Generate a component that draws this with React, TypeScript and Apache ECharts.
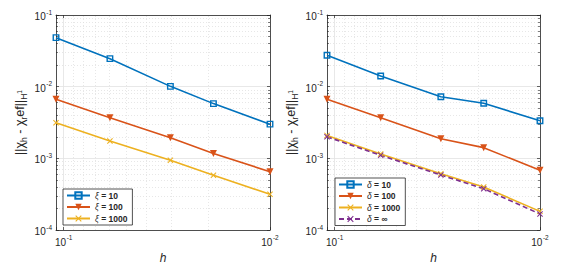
import React, { useEffect, useRef } from "react";
import * as echarts from "echarts";

// mesh sizes h (x axis, shared by both panels)
const H = [0.109, 0.0597, 0.0304, 0.0188, 0.01];
// left panel: xi
const XI_NAMES = ["ξ = 10", "ξ = 100", "ξ = 1000"];
const XI_10 = [0.0483, 0.0246, 0.0101, 0.0058, 0.003];
const XI_100 = [0.00665, 0.00369, 0.00194, 0.00117, 0.00065];
const XI_1000 = [0.00314, 0.00175, 0.00094, 0.00058, 0.000315];
// right panel: delta
const D_NAMES = ["δ = 10", "δ = 100", "δ = 1000", "δ = ∞"];
const D_10 = [0.0274, 0.0141, 0.00724, 0.00586, 0.00335];
const D_100 = [0.00665, 0.00369, 0.00188, 0.00141, 0.00068];
const D_1000 = [0.00209, 0.00115, 0.00061, 0.000398, 0.000182];
const D_INF = [0.002, 0.0011, 0.000585, 0.000377, 0.000167];
// axis limits
const Y_MIN = 1e-4;
const Y_MAX = 1e-1;

const BLUE = "#0072BD";
const ORANGE = "#D95319";
const YELLOW = "#EDB120";
const PURPLE = "#7E2F8E";
const INK = "#262626";
const FONT = "'Liberation Sans', Arial, Helvetica, sans-serif";
const XMARK = "path://M0,1.2L1.2,0L5,3.8L8.8,0L10,1.2L6.2,5L10,8.8L8.8,10L5,6.2L1.2,10L0,8.8L3.8,5Z";

const X_MIN = Math.min(...H);
const X_MAX = Math.max(...H);

function minorGridX(): number[] {
  const out: number[] = [];
  for (let d = -3; d <= 0; d++) {
    for (let k = 2; k <= 9; k++) {
      const v = k * Math.pow(10, d);
      if (v > X_MIN * 1.0001 && v < X_MAX * 0.9999) out.push(v);
    }
  }
  return out;
}

const powLabel = (v: number) => {
  const e = Math.log10(v);
  const r = Math.round(e);
  if (Math.abs(e - r) > 1e-6) return "";
  return `{b|10}{p|${r}}`;
};

const tickRich = {
  b: { fontSize: 10, color: INK, fontFamily: FONT, lineHeight: 13, verticalAlign: "bottom" },
  p: { fontSize: 6.5, color: INK, fontFamily: FONT, lineHeight: 13, verticalAlign: "top", padding: [0, 0, 0, 0.5] },
};

function xAxes(gridIndex: number) {
  const base = {
    type: "log",
    logBase: 10,
    gridIndex,
    min: X_MIN,
    max: X_MAX,
    inverse: true,
    axisLine: { show: true, onZero: false, lineStyle: { color: INK, width: 0.8 } },
    axisTick: { show: true, inside: true, length: 3, lineStyle: { color: INK, width: 0.7 } },
  };
  return [
    {
      ...base,
      position: "bottom",
      name: "h",
      nameLocation: "middle",
      nameGap: 20,
      nameTextStyle: { fontStyle: "italic", fontSize: 12, color: INK, fontFamily: FONT },
      axisLabel: { show: true, formatter: powLabel, rich: tickRich, margin: 4, showMinLabel: true, showMaxLabel: true },
      splitLine: { show: true, lineStyle: { color: "#e2e2e2", width: 0.8 } },
    },
    {
      ...base,
      position: "top",
      axisLabel: { show: false },
      splitLine: { show: false },
    },
  ];
}

function yAxes(gridIndex: number) {
  const base = {
    type: "log",
    logBase: 10,
    gridIndex,
    min: Y_MIN,
    max: Y_MAX,
    axisLine: { show: true, onZero: false, lineStyle: { color: INK, width: 0.8 } },
    axisTick: { show: true, inside: true, length: 3, lineStyle: { color: INK, width: 0.7 } },
    minorTick: { show: true, splitNumber: 9, length: 2, lineStyle: { color: INK, width: 0.6 } },
  };
  return [
    {
      ...base,
      position: "left",
      name: "{n|||χ}{s|h}{n| - χ}{s|r}{n|ef||}{s|H}{u|1}",
      nameLocation: "middle",
      nameRotate: 90,
      nameGap: 28,
      nameTextStyle: {
        rich: {
          n: { fontSize: 12.5, color: INK, fontFamily: FONT, lineHeight: 17, verticalAlign: "middle" },
          s: { fontSize: 8.5, color: INK, fontFamily: FONT, lineHeight: 10, verticalAlign: "bottom" },
          u: { fontSize: 6.5, color: INK, fontFamily: FONT, lineHeight: 15, verticalAlign: "middle" },
        },
      },
      axisLabel: { show: true, formatter: powLabel, rich: tickRich, margin: 4 },
      splitLine: { show: true, lineStyle: { color: "#e2e2e2", width: 0.8 } },
      minorSplitLine: { show: true, lineStyle: { color: "#dcdcdc", width: 0.7, type: [1, 2] } },
    },
    {
      ...base,
      position: "right",
      axisLabel: { show: false },
      splitLine: { show: false },
      minorSplitLine: { show: false },
    },
  ];
}

function pts(ys: number[]) {
  return H.map((h, i) => [h, ys[i]]);
}

function lineSeries(name: string, ys: number[], color: string, kind: string, xi: number, yi: number, dashed = false) {
  let symbol = "rect";
  let symbolRotate = 0;
  let itemStyle: any = { color };
  let symbolSize = 6;
  if (kind === "square") {
    itemStyle = { color: "rgba(255,255,255,0)", borderColor: color, borderWidth: 1.4 };
    symbolSize = 5.5;
  } else if (kind === "tri") {
    symbol = "triangle";
    symbolRotate = 180;
    symbolSize = 7;
  } else {
    symbol = XMARK;
    symbolSize = 6;
  }
  return {
    type: "line",
    name,
    xAxisIndex: xi,
    yAxisIndex: yi,
    data: pts(ys),
    symbol,
    symbolRotate,
    symbolSize,
    itemStyle,
    lineStyle: { color, width: 1.6, type: dashed ? [5, 3] : "solid" },
    z: 3,
  };
}

function gridHelper(xi: number, yi: number) {
  return {
    type: "line",
    name: "__grid" + xi,
    xAxisIndex: xi,
    yAxisIndex: yi,
    data: [],
    silent: true,
    z: 1,
    markLine: {
      silent: true,
      symbol: "none",
      z: 1,
      label: { show: false },
      lineStyle: { color: "#dcdcdc", width: 0.7, type: [1, 2] },
      data: minorGridX().map((v) => ({ xAxis: v })),
    },
  };
}

const legendBase = {
  orient: "vertical",
  backgroundColor: "#ffffff",
  borderColor: INK,
  borderWidth: 0.8,
  borderRadius: 0,
  padding: [2, 5, 2, 3],
  itemGap: 2.5,
  itemWidth: 23,
  itemHeight: 8,
  selectedMode: false,
  formatter: (name: string) => `{g|${name.charAt(0)}}{t|${name.slice(1)}}`,
  textStyle: {
    rich: {
      g: { fontSize: 8.5, fontStyle: "italic", color: INK, fontFamily: FONT },
      t: { fontSize: 8.5, fontWeight: "bold", color: INK, fontFamily: FONT },
    },
  },
};

export default function App() {
  const ref = useRef<HTMLDivElement>(null);
  useEffect(() => {
    if (!ref.current) return;
    const chart = echarts.init(ref.current, undefined, { renderer: "svg" });
    const xa0 = xAxes(0);
    const xa1 = xAxes(1);
    const ya0 = yAxes(0);
    const ya1 = yAxes(1);
    chart.setOption({
      animation: false,
      backgroundColor: "#ffffff",
      textStyle: { fontFamily: FONT },
      grid: [
        { left: 56, top: 15, width: 214, height: 215 },
        { left: 327, top: 15, width: 213, height: 215 },
      ],
      xAxis: [xa0[0], xa0[1], xa1[0], xa1[1]],
      yAxis: [ya0[0], ya0[1], ya1[0], ya1[1]],
      legend: [
        { ...legendBase, data: XI_NAMES, left: 63, top: 189 },
        { ...legendBase, data: D_NAMES, left: 335, top: 178 },
      ],
      series: [
        gridHelper(0, 0),
        gridHelper(2, 2),
        lineSeries(XI_NAMES[0], XI_10, BLUE, "square", 0, 0),
        lineSeries(XI_NAMES[1], XI_100, ORANGE, "tri", 0, 0),
        lineSeries(XI_NAMES[2], XI_1000, YELLOW, "x", 0, 0),
        lineSeries(D_NAMES[0], D_10, BLUE, "square", 2, 2),
        lineSeries(D_NAMES[1], D_100, ORANGE, "tri", 2, 2),
        lineSeries(D_NAMES[2], D_1000, YELLOW, "x", 2, 2),
        lineSeries(D_NAMES[3], D_INF, PURPLE, "x", 2, 2, true),
      ],
    });
    return () => chart.dispose();
  }, []);
  return (
    <div
      ref={ref}
      style={{ position: "fixed", left: 0, top: 0, width: 585, height: 270, background: "#fff" }}
    />
  );
}
